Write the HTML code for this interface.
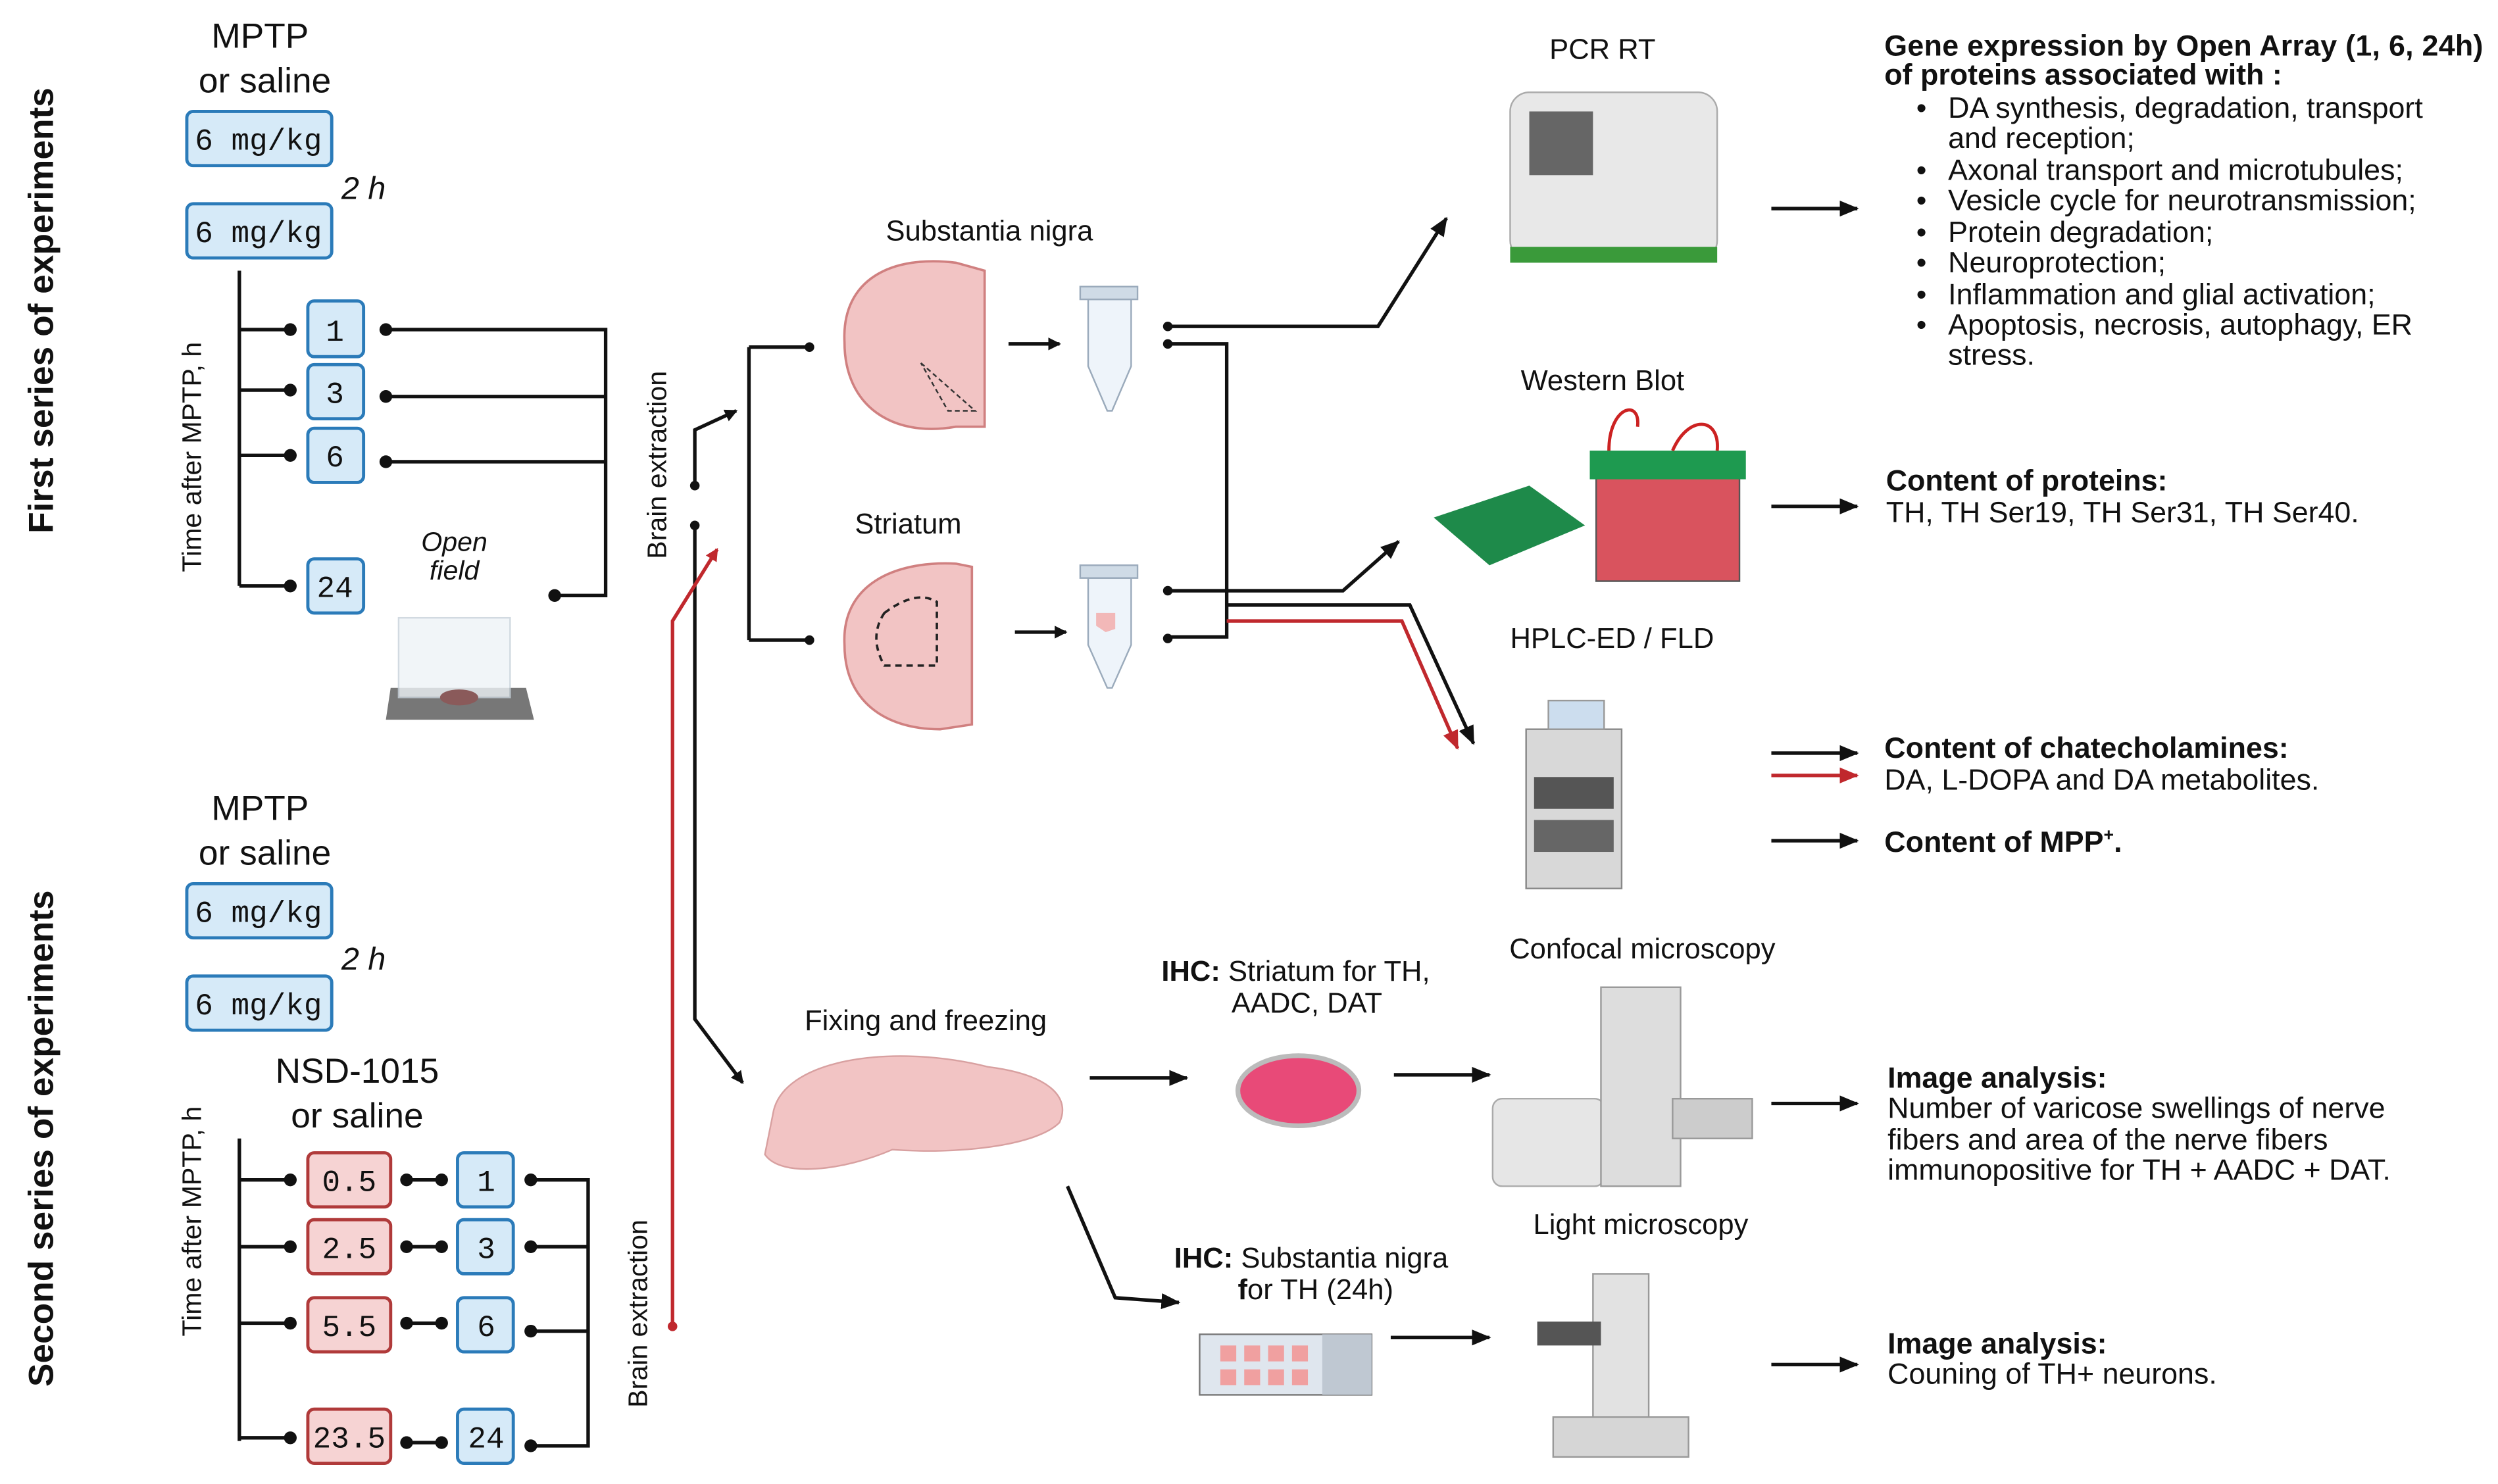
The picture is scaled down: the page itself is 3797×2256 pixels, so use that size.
<!DOCTYPE html>
<html><head><meta charset="utf-8"><style>
html,body{margin:0;padding:0;background:#fff;}
svg{display:block;}
text{font-family:"Liberation Sans",sans-serif;fill:#111;}
.m{font-family:"Liberation Mono",monospace;}
.b{font-weight:bold;}
</style></head><body>
<svg width="3797" height="2256" viewBox="0 0 1568 932" xmlns="http://www.w3.org/2000/svg">
<defs>
<marker id="ak" markerWidth="8" markerHeight="8" refX="7" refY="4" orient="auto" markerUnits="userSpaceOnUse"><path d="M0,0 L8,4 L0,8 Z" fill="#111"/></marker>
<marker id="ar" markerWidth="8" markerHeight="8" refX="7" refY="4" orient="auto" markerUnits="userSpaceOnUse"><path d="M0,0 L8,4 L0,8 Z" fill="#c0282d"/></marker>
<marker id="ak2" markerWidth="12" markerHeight="10" refX="11" refY="5" orient="auto" markerUnits="userSpaceOnUse"><path d="M0,0 L12,5 L0,10 Z" fill="#111"/></marker>
<marker id="ar2" markerWidth="12" markerHeight="10" refX="11" refY="5" orient="auto" markerUnits="userSpaceOnUse"><path d="M0,0 L12,5 L0,10 Z" fill="#c0282d"/></marker>
</defs>
<g fill="none" stroke="#111" stroke-width="2.2">
<path d="M150 170 V368 M150 207 H182 M150 245 H182 M150 286 H182 M150 368 H182"/>
<path d="M242 207 H380 V374 H348 M242 249 H380 M242 290 H380"/>
<path d="M150 715 V905 M150 741 H182 M150 783 H182 M150 831 H182 M150 903 H182"/>
<path d="M255 741 H277 M255 783 H277 M255 831 H277 M255 906 H277"/>
<path d="M333 741 H369 V908 H333 M333 783 H369 M333 836 H369"/>
<path d="M436 305 V270 L462 258" marker-end="url(#ak)"/>
<path d="M470 218 V402 M470 218 H508 M470 402 H508"/>
<path d="M436 330 V640 L466 680" marker-end="url(#ak)"/>
<path d="M633 216 H665" marker-end="url(#ak)"/>
<path d="M637 397 H669" marker-end="url(#ak)"/>
<path d="M733 205 H865 L908 137" marker-end="url(#ak2)"/>
<path d="M733 216 H770 V400 H733"/>
<path d="M733 371 H843 L878 340" marker-end="url(#ak2)"/>
<path d="M770 380 H885 L925 467" marker-end="url(#ak2)"/>
<path d="M1112 131 H1166" marker-end="url(#ak2)"/>
<path d="M1112 318 H1166" marker-end="url(#ak2)"/>
<path d="M1112 473 H1166" marker-end="url(#ak2)"/>
<path d="M1112 528 H1166" marker-end="url(#ak2)"/>
<path d="M1112 693 H1166" marker-end="url(#ak2)"/>
<path d="M1112 857 H1166" marker-end="url(#ak2)"/>
<path d="M684 677 H745" marker-end="url(#ak2)"/>
<path d="M875 675 H935" marker-end="url(#ak2)"/>
<path d="M873 840 H935" marker-end="url(#ak2)"/>
<path d="M670 745 L700 815 L740 818" marker-end="url(#ak2)"/>
</g>
<g fill="none" stroke="#c0282d" stroke-width="2.2">
<path d="M422 833 V390 L450 345" marker-end="url(#ar)"/>
<path d="M770 390 H880 L915 470" marker-end="url(#ar2)"/>
<path d="M1112 487 H1166" marker-end="url(#ar2)"/>
</g>
<g fill="#111">
<circle cx="182" cy="207" r="4"/><circle cx="182" cy="245" r="4"/><circle cx="182" cy="286" r="4"/><circle cx="182" cy="368" r="4"/>
<circle cx="242" cy="207" r="4"/><circle cx="242" cy="249" r="4"/><circle cx="242" cy="290" r="4"/><circle cx="348" cy="374" r="4"/>
<circle cx="182" cy="741" r="4"/><circle cx="182" cy="783" r="4"/><circle cx="182" cy="831" r="4"/><circle cx="182" cy="903" r="4"/>
<circle cx="255" cy="741" r="4"/><circle cx="255" cy="783" r="4"/><circle cx="255" cy="831" r="4"/><circle cx="255" cy="906" r="4"/>
<circle cx="277" cy="741" r="4"/><circle cx="277" cy="783" r="4"/><circle cx="277" cy="831" r="4"/><circle cx="277" cy="906" r="4"/>
<circle cx="333" cy="741" r="4"/><circle cx="333" cy="783" r="4"/><circle cx="333" cy="836" r="4"/><circle cx="333" cy="908" r="4"/>
<circle cx="436" cy="305" r="3"/><circle cx="436" cy="330" r="3"/><circle cx="508" cy="218" r="3"/><circle cx="508" cy="402" r="3"/>
<circle cx="733" cy="205" r="3"/><circle cx="733" cy="216" r="3"/><circle cx="733" cy="371" r="3"/><circle cx="733" cy="401" r="3"/>
</g>
<circle cx="422" cy="833" r="3" fill="#c0282d"/>
<g fill="#d6eaf8" stroke="#2b7bb9" stroke-width="2">
<rect x="117" y="70" width="91" height="34" rx="4"/><rect x="117" y="128" width="91" height="34" rx="4"/>
<rect x="193" y="189" width="35" height="35" rx="4"/><rect x="193" y="229" width="35" height="34" rx="4"/><rect x="193" y="269" width="35" height="34" rx="4"/><rect x="193" y="351" width="35" height="34" rx="4"/>
<rect x="117" y="555" width="91" height="34" rx="4"/><rect x="117" y="613" width="91" height="34" rx="4"/>
<rect x="287" y="724" width="35" height="34" rx="4"/><rect x="287" y="766" width="35" height="34" rx="4"/><rect x="287" y="815" width="35" height="34" rx="4"/><rect x="287" y="885" width="35" height="34" rx="4"/>
</g>
<g fill="#f6d3d3" stroke="#b03a3a" stroke-width="2">
<rect x="193" y="724" width="52" height="34" rx="4"/><rect x="193" y="766" width="52" height="34" rx="4"/><rect x="193" y="815" width="52" height="34" rx="4"/><rect x="193" y="885" width="52" height="34" rx="4"/>
</g>
<g class="m" font-size="19" text-anchor="middle">
<text x="162" y="94" class="m">6 mg/kg</text><text x="162" y="152" class="m">6 mg/kg</text>
<text x="210" y="214" class="m">1</text><text x="210" y="253" class="m">3</text><text x="210" y="293" class="m">6</text><text x="210" y="375" class="m">24</text>
<text x="162" y="579" class="m">6 mg/kg</text><text x="162" y="637" class="m">6 mg/kg</text>
<text x="219" y="748" class="m">0.5</text><text x="219" y="790" class="m">2.5</text><text x="219" y="839" class="m">5.5</text><text x="219" y="909" class="m">23.5</text>
<text x="305" y="748" class="m">1</text><text x="305" y="790" class="m">3</text><text x="305" y="839" class="m">6</text><text x="305" y="909" class="m">24</text>
</g>
<g font-size="22" text-anchor="middle">
<text x="163" y="30">MPTP</text><text x="166" y="58">or  saline</text>
<text x="163" y="515">MPTP</text><text x="166" y="543">or  saline</text>
<text x="224" y="680">NSD-1015</text><text x="224" y="708">or  saline</text>
</g>
<text x="228" y="125" font-size="20" font-style="italic" text-anchor="middle">2 h</text>
<text x="228" y="609" font-size="20" font-style="italic" text-anchor="middle">2 h</text>
<text x="285" y="346" font-size="17" font-style="italic" text-anchor="middle">Open</text>
<text x="285" y="364" font-size="17" font-style="italic" text-anchor="middle">field</text>
<text transform="translate(33,195) rotate(-90)" font-size="22" class="b" text-anchor="middle">First series of experiments</text>
<text transform="translate(33,715) rotate(-90)" font-size="22" class="b" text-anchor="middle">Second series of experiments</text>
<text transform="translate(126,287) rotate(-90)" font-size="17" text-anchor="middle">Time after MPTP, h</text>
<text transform="translate(126,767) rotate(-90)" font-size="17" text-anchor="middle">Time after MPTP, h</text>
<text transform="translate(418,292) rotate(-90)" font-size="17" text-anchor="middle">Brain extraction</text>
<text transform="translate(406,825) rotate(-90)" font-size="17" text-anchor="middle">Brain extraction</text>
<path d="M245 432 L330 432 L335 452 L242 452 Z" fill="#777"/>
<rect x="250" y="388" width="70" height="50" fill="#eef3f7" stroke="#c8d2da" opacity=".8"/>
<ellipse cx="288" cy="438" rx="12" ry="5" fill="#8a5a5a"/>
<path d="M530 215 C528 175 560 160 600 165 L618 170 V268 L600 268 C560 275 530 255 530 215 Z" fill="#f2c4c4" stroke="#d08080" stroke-width="1.5"/>
<path d="M578 228 L612 258 L595 258 Z" fill="none" stroke="#333" stroke-dasharray="3 2"/>
<path d="M530 405 C528 368 560 352 600 354 L610 356 V455 L590 458 C555 458 530 440 530 405 Z" fill="#f2c4c4" stroke="#d08080" stroke-width="1.5"/>
<path d="M555 385 Q575 370 588 378 L588 418 L555 418 Q545 400 555 385 Z" fill="none" stroke="#222" stroke-dasharray="4 3" stroke-width="1.5"/>
<g fill="#eef4fa" stroke="#9aaabb">
<path d="M683 188 H710 V230 L698 258 L695 258 L683 230 Z"/><rect x="678" y="180" width="36" height="8" fill="#cfdbe6"/>
<path d="M683 363 H710 V405 L698 432 L695 432 L683 405 Z"/><rect x="678" y="355" width="36" height="8" fill="#cfdbe6"/>
</g>
<path d="M688 385 H700 V395 L694 397 L688 393Z" fill="#f2b8b8"/>
<text x="621" y="151" font-size="18" text-anchor="middle">Substantia nigra</text>
<text x="570" y="335" font-size="18" text-anchor="middle">Striatum</text>
<rect x="948" y="58" width="130" height="105" rx="12" fill="#e8e8e8" stroke="#aaa"/>
<rect x="960" y="70" width="40" height="40" fill="#666"/><rect x="948" y="155" width="130" height="10" fill="#3a9a3a"/>
<text x="1006" y="37" font-size="18" text-anchor="middle">PCR RT</text>
<path d="M900 325 L960 305 L995 330 L935 355 Z" fill="#1e8a4a"/>
<rect x="1002" y="295" width="90" height="70" fill="#d9535e" stroke="#555"/>
<rect x="998" y="283" width="98" height="18" fill="#1e9a50"/>
<path d="M1010 283 C1010 255 1030 250 1028 268 M1050 283 C1060 260 1080 262 1078 283" fill="none" stroke="#c22" stroke-width="2"/>
<text x="1006" y="245" font-size="18" text-anchor="middle">Western Blot</text>
<rect x="958" y="458" width="60" height="100" fill="#d8d8d8" stroke="#888"/>
<rect x="963" y="488" width="50" height="20" fill="#555"/><rect x="963" y="515" width="50" height="20" fill="#666"/>
<rect x="972" y="440" width="35" height="18" fill="#cde" stroke="#999"/>
<text x="1012" y="407" font-size="18" text-anchor="middle">HPLC-ED / FLD</text>
<path d="M485 700 C490 665 560 655 620 670 C660 675 672 690 665 705 C650 720 600 725 560 722 C530 735 490 740 480 725 Z" fill="#f2c4c4" stroke="#d8a0a0"/>
<text x="581" y="647" font-size="18" text-anchor="middle">Fixing and freezing</text>
<ellipse cx="815" cy="685" rx="38" ry="22" fill="#e84a78" stroke="#bbb" stroke-width="3"/>
<text x="729" y="616" font-size="18"><tspan class="b">IHC:</tspan> Striatum for TH,</text>
<text x="773" y="636" font-size="18">AADC, DAT</text>
<rect x="937" y="690" width="70" height="55" rx="6" fill="#e6e6e6" stroke="#aaa"/>
<rect x="1005" y="620" width="50" height="125" fill="#ddd" stroke="#999"/>
<rect x="1050" y="690" width="50" height="25" fill="#ccc" stroke="#999"/>
<text x="1031" y="602" font-size="18" text-anchor="middle">Confocal microscopy</text>
<rect x="753" y="838" width="108" height="38" fill="#dfe6ee" stroke="#777"/>
<rect x="830" y="838" width="31" height="38" fill="#bfc8d2"/>
<g fill="#f0a0a0"><rect x="766" y="845" width="10" height="10"/><rect x="781" y="845" width="10" height="10"/><rect x="796" y="845" width="10" height="10"/><rect x="811" y="845" width="10" height="10"/><rect x="766" y="860" width="10" height="10"/><rect x="781" y="860" width="10" height="10"/><rect x="796" y="860" width="10" height="10"/><rect x="811" y="860" width="10" height="10"/></g>
<text x="737" y="796" font-size="18"><tspan class="b">IHC:</tspan> Substantia nigra</text>
<text x="777" y="816" font-size="18"><tspan class="b">f</tspan>or TH (24h)</text>
<rect x="1000" y="800" width="35" height="110" fill="#e2e2e2" stroke="#999"/>
<rect x="975" y="890" width="85" height="25" fill="#d6d6d6" stroke="#999"/>
<rect x="965" y="830" width="40" height="15" fill="#555"/>
<text x="1030" y="775" font-size="18" text-anchor="middle">Light microscopy</text>
<g font-size="18.5">
<text x="1183" y="35" class="b" textLength="376">Gene expression by Open Array (1, 6, 24h)</text>
<text x="1183" y="53" class="b">of  proteins associated with :</text>
<text x="1203" y="74">•</text><text x="1223" y="74">DA synthesis, degradation, transport</text>
<text x="1223" y="93">and  reception;</text>
<text x="1203" y="113">•</text><text x="1223" y="113">Axonal transport and microtubules;</text>
<text x="1203" y="132">•</text><text x="1223" y="132">Vesicle cycle for neurotransmission;</text>
<text x="1203" y="152">•</text><text x="1223" y="152">Protein degradation;</text>
<text x="1203" y="171">•</text><text x="1223" y="171">Neuroprotection;</text>
<text x="1203" y="191">•</text><text x="1223" y="191">Inflammation  and glial activation;</text>
<text x="1203" y="210">•</text><text x="1223" y="210">Apoptosis, necrosis, autophagy, ER</text>
<text x="1223" y="229">stress.</text>
<text x="1184" y="308" class="b">Content of proteins:</text>
<text x="1184" y="328">TH, TH Ser19, TH Ser31, TH Ser40.</text>
<text x="1183" y="476" class="b">Content of chatecholamines:</text>
<text x="1183" y="496">DA, L-DOPA and DA metabolites.</text>
<text x="1183" y="535" class="b">Content of MPP<tspan font-size="11" dy="-7">+</tspan><tspan dy="7">.</tspan></text>
<text x="1185" y="683" class="b">Image analysis:</text>
<text x="1185" y="702">Number of varicose swellings of nerve</text>
<text x="1185" y="722">fibers and area of the nerve fibers</text>
<text x="1185" y="741">immunopositive for TH + AADC + DAT.</text>
<text x="1185" y="850" class="b">Image analysis:</text>
<text x="1185" y="869">Couning of TH+ neurons.</text>
</g>
</svg>
</body></html>
